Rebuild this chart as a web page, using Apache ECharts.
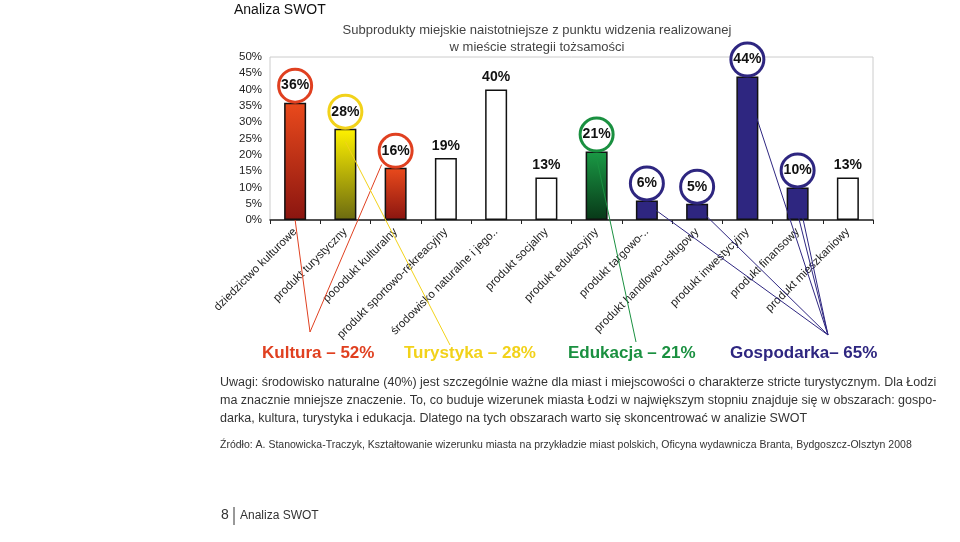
<!DOCTYPE html><html><head><meta charset="utf-8"><script src="https://cdn.jsdelivr.net/npm/echarts@6/dist/echarts.min.js"></script>
<style>body{margin:0;background:#fff}#c{width:960px;height:542px}</style></head><body><div id="c"></div><script>
const categories=['dziedzictwo kulturowe','produkt turystyczny','pooodukt kulturalny','produkt sportowo-rekreacyjny','środowisko naturalne i jego..','produkt socjalny','produkt edukacyjny','produkt targowo-..','produkt handlowo-usługowy','produkt inwestycyjny','produkt finansowy','produkt mieszkaniowy'];
const values=[36,28,16,19,40,13,21,6,5,44,10,13];
const groups=['k','t','k','w','w','w','e','g','g','g','g','w'];
const yTicks=[0,5,10,15,20,25,30,35,40,45,50];
const R='#e04020',Y='#f2d21a',G='#1a9040',B='#2e2680';
const grad=(a,b)=>new echarts.graphic.LinearGradient(0,0,0,1,[{offset:0,color:a},{offset:1,color:b}]);
const fills={k:grad('#ea4a1c','#8a1510'),t:grad('#fff200','#6b6a10'),e:grad('#1a9a45','#083818'),g:B,w:'#fff'};
const rings={k:R,t:Y,e:G,g:B};
const chart=echarts.init(document.getElementById('c'));
const data=values.map((v,i)=>{const g=groups[i];const lbl={show:true,position:'top',formatter:v+'%',fontSize:14,fontWeight:'bold',color:'#111',fontFamily:'Liberation Sans'};
if(rings[g]){Object.assign(lbl,{borderColor:rings[g],borderWidth:3,borderRadius:18,backgroundColor:'#fff',width:30,height:30,lineHeight:30,align:'center',distance:2});}
return {value:v,itemStyle:{color:fills[g],borderColor:'#111',borderWidth:1.5},label:lbl};});
chart.setOption({animation:false,
title:[{text:'Analiza SWOT',left:229,top:-2,textStyle:{fontSize:14,fontWeight:'normal',color:'#111',fontFamily:'Liberation Sans'}},
{text:'Subprodukty miejskie naistotniejsze z punktu widzenia realizowanej\nw mieście strategii tożsamości',left:532,textAlign:'center',top:17,textStyle:{fontSize:13,fontWeight:'normal',color:'#444',lineHeight:17,fontFamily:'Liberation Sans'}}],
grid:{left:270,right:87,top:57,bottom:322,show:true,borderColor:'#ccc',borderWidth:1},
xAxis:{type:'category',data:categories,axisLine:{lineStyle:{color:'#222',width:1.5}},axisTick:{show:true,length:4,lineStyle:{color:'#222'}},axisLabel:{rotate:45,interval:0,fontSize:11.5,color:'#222',margin:10,fontFamily:'Liberation Sans'}},
yAxis:{type:'value',min:yTicks[0],max:yTicks[yTicks.length-1],interval:5,splitLine:{show:false},axisLine:{show:false},axisTick:{show:false},axisLabel:{formatter:'{value}%',fontSize:11.5,color:'#222',margin:8,fontFamily:'Liberation Sans'}},
series:[{type:'bar',data:data,barWidth:22}]});
const P=(i,v)=>chart.convertToPixel({seriesIndex:0},[i,v]);
const links=[[0,0,R,[310,332]],[2,17,R,[310,332]],[1,24,Y,[450,345]],[6,19,G,[636,342]],[7,5,B,[828,335]],[8,4,B,[828,335]],[9,40,B,[828,335]],[10,8,B,[828,335]],[10,2,B,[828,335]]];
const gr=links.map(([i,v,c,e])=>{const s=P(i,v);if(i===2)s[0]-=14;return {type:'line',shape:{x1:s[0],y1:s[1],x2:e[0],y2:e[1]},style:{stroke:c,lineWidth:1},z:5};});
const tx=(x,y,t,s)=>({type:'text',left:x,top:y,style:Object.assign({text:t,fontFamily:'Liberation Sans',fill:'#222',fontSize:12},s||{})});
const H={fontSize:17,fontWeight:'bold'};
gr.push(tx(262,345,'Kultura – 52%',Object.assign({fill:R},H)),tx(404,345,'Turystyka – 28%',Object.assign({fill:Y},H)),tx(568,345,'Edukacja – 21%',Object.assign({fill:G},H)),tx(730,345,'Gospodarka– 65%',Object.assign({fill:B},H)));
gr.push(tx(220,374,'Uwagi: środowisko naturalne (40%) jest szczególnie ważne dla miast i miejscowości o charakterze stricte turystycznym. Dla Łodzi\nma znacznie mniejsze znaczenie. To, co buduje wizerunek miasta Łodzi w największym stopniu znajduje się w obszarach: gospo-\ndarka, kultura, turystyka i edukacja. Dlatego na tych obszarach warto się skoncentrować w analizie SWOT',{fontSize:12.5,lineHeight:18,fill:'#333'}));
gr.push(tx(220,440,'Źródło: A. Stanowicka-Traczyk, Kształtowanie wizerunku miasta na przykładzie miast polskich, Oficyna wydawnicza Branta, Bydgoszcz-Olsztyn 2008',{fontSize:10.5,fill:'#333'}));
gr.push(tx(221,508,'8',{fontSize:14,fill:'#333'}),{type:'line',shape:{x1:234,y1:507,x2:234,y2:525},style:{stroke:'#333',lineWidth:1}},tx(240,510,'Analiza SWOT',{fontSize:12,fill:'#333'}));
chart.setOption({graphic:gr});
</script></body></html>
